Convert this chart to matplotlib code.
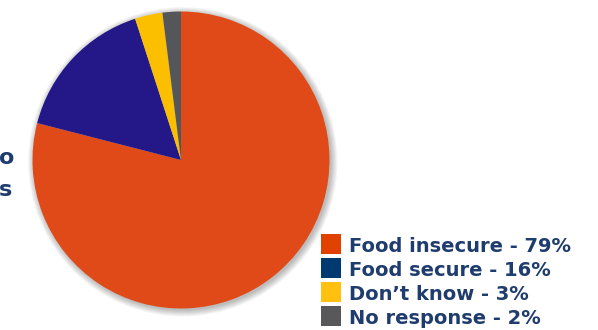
import matplotlib
matplotlib.use('Agg')
import matplotlib.pyplot as plt
from matplotlib.patches import Circle, Rectangle

# survey answers
labels = ['Food insecure', 'Food secure', "Don\u2019t know", 'No response']
shares = [79, 16, 3, 2]
pie_colors = ['#E04A18', '#241889', '#FBBF00', '#55565A']
legend_colors = ['#E04000', '#003A70', '#FFC010', '#58585A']
text_color = '#1F3C6E'

W, H = 598, 330
fig = plt.figure(figsize=(W / 100, H / 100), dpi=100)
fig.patch.set_facecolor('white')

# pie axes: centre ~ (181, 160) px, radius ~148 px
r_px = 148.5
ax = fig.add_axes([(181 - r_px) / W, (H - 160 - r_px) / H,
                   2 * r_px / W, 2 * r_px / H])

# soft shadow under the pie
for i in range(8):
    sh = Circle((0.012, -0.012), 1.0 + 0.006 * i, color='#000000',
                alpha=0.035, lw=0, zorder=0, clip_on=False)
    ax.add_patch(sh)

ax.pie(shares, colors=pie_colors, startangle=90, counterclock=False,
       radius=1.0, wedgeprops=dict(linewidth=0))
ax.set_xlim(-1, 1)
ax.set_ylim(-1, 1)
ax.set_aspect('equal')
ax.axis('off')

# fragments of text at the left border
fig.text(-1 / W, 1 - 164 / H, 'o', ha='left', va='baseline', fontsize=16,
         fontweight='bold', color=text_color)
fig.text(-1 / W, 1 - 196 / H, 's', ha='left', va='baseline', fontsize=16,
         fontweight='bold', color=text_color)

# legend, drawn by hand so the squares and rows line up with the reference
for i, (lab, share, col) in enumerate(zip(labels, shares, legend_colors)):
    top = 233.5 + i * 24
    fig.patches.append(Rectangle((321 / W, 1 - (top + 20) / H), 20 / W, 20 / H,
                                 transform=fig.transFigure, facecolor=col,
                                 edgecolor='none'))
    fig.text(349 / W, 1 - (top + 18) / H, f'{lab} - {share}%', ha='left',
             va='baseline', fontsize=14, fontweight='bold', color=text_color)

plt.savefig('out.png', dpi=100)
